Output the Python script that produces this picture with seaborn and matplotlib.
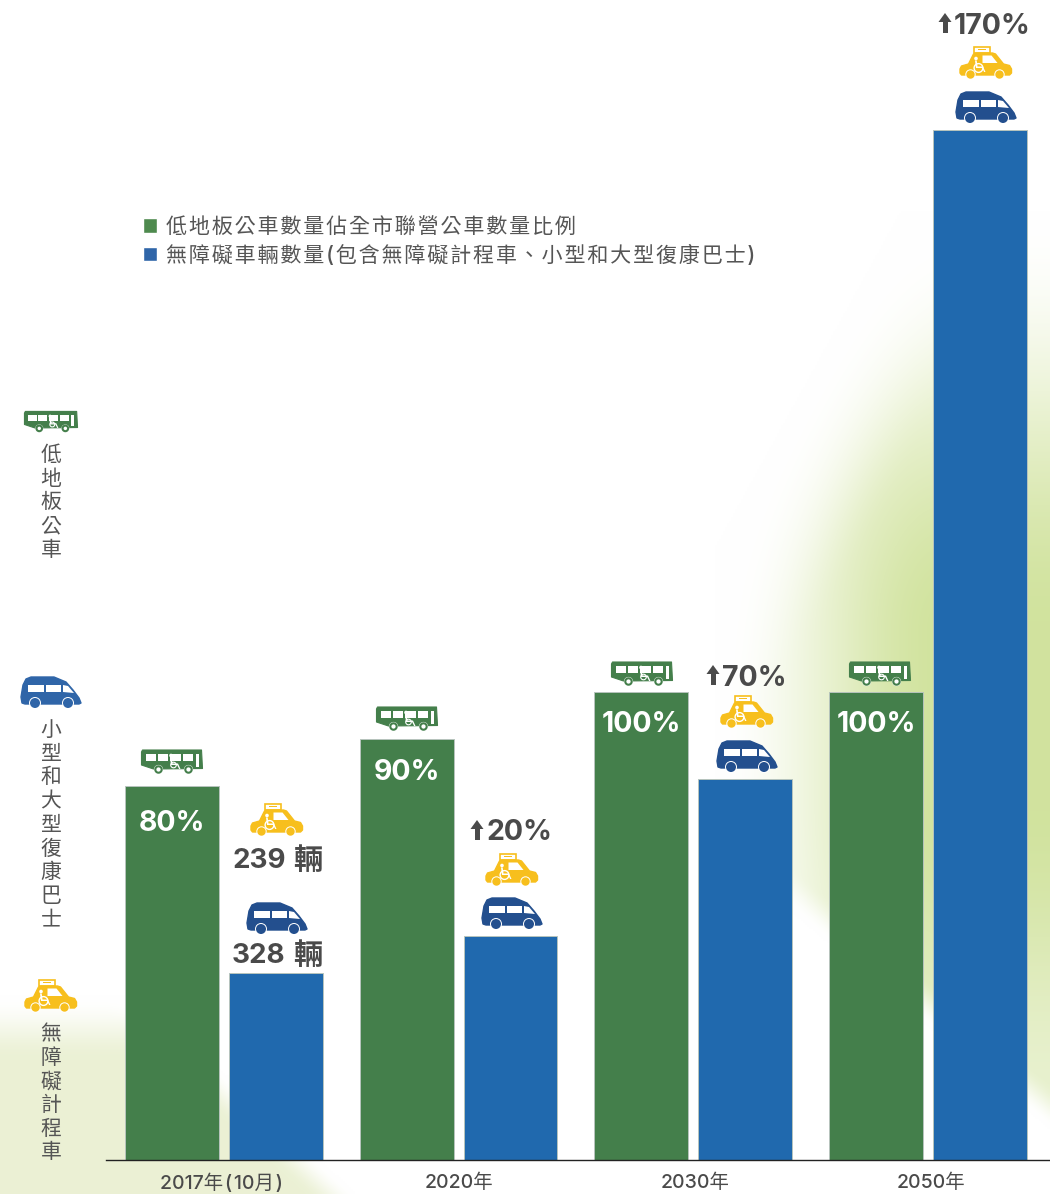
import numpy as np
import pandas as pd
import matplotlib
matplotlib.use("Agg")
import matplotlib.pyplot as plt
import seaborn as sns
from matplotlib.patches import Circle, Patch, Polygon, Rectangle
from matplotlib.transforms import Affine2D

sns.set_theme(style="white")
plt.rcParams["font.family"] = ["Inter", "Noto Sans CJK TC", "DejaVu Sans"]

# Data
years = ["2017年(10月)", "2020年", "2030年", "2050年"]
low_floor_pct = [80, 90, 100, 100]
accessible_vehicles = [567, 680, 1156, 3122]
growth_labels = [None, "20%", "70%", "170%"]
taxi_2017 = 239
rehabus_2017 = 328

low_floor_name = "低地板公車數量佔全市聯營公車數量比例"
accessible_name = "無障礙車輛數量(包含無障礙計程車、小型和大型復康巴士)"

GREEN = "#447f4b"
BLUE = "#2069ae"
TEXT = "#4a4a4a"
W, H = 1050, 1194
BASE = 1160

# the two series sit on their own scales, 567 vehicles is drawn as high as 40 %
VEHICLES_TO_PCT = (187 / 4.68) / 567

df = pd.concat([
    pd.DataFrame({"year": years, "height": low_floor_pct, "series": low_floor_name}),
    pd.DataFrame({"year": years, "height": np.array(accessible_vehicles) * VEHICLES_TO_PCT, "series": accessible_name}),
])
palette = {low_floor_name: GREEN, accessible_name: BLUE}

fig = plt.figure(figsize=(W / 100, H / 100), dpi=100)


def ramp(v):
    v = np.clip(v, 0, 1)
    return v * v * (3 - 2 * v)


# background glow
bg = fig.add_axes([0, 0, 1, 1], zorder=0)
X, Y = np.meshgrid(np.arange(0, W, 2), np.arange(0, H, 2))
glow = ramp((X - 715) / 230) * ramp((X * 0.875 + Y * 0.483 - 890) / 130)
glow = glow * ramp((Y - 210) / 420)
glow = glow * ramp((0.84 * (X - 793) - (Y - 903)) / 45 + 0.2)
glow = glow * (1 - 0.5 * ramp((Y - 800) / 300))
corner = 0.55 * ramp((Y - 995) / 65) * ramp(((200 - X) + (Y - 1075) * 1.1) / 50 + 0.5)
img = np.ones(X.shape + (3,))
for ch, (g, c) in enumerate(zip((0.82, 0.89, 0.62), (0.86, 0.9, 0.7))):
    img[..., ch] = 1 - (1 - g) * glow - (1 - c) * corner
bg.imshow(np.clip(img, 0, 1), extent=(0, W, H, 0), aspect="auto", interpolation="bilinear")
bg.axis("off")

# bars
ax = fig.add_axes([106 / W, (H - BASE) / H, 1 - 106 / W, BASE / H], zorder=1)
ax.patch.set_visible(False)
sns.barplot(data=df, x="year", y="height", hue="series", order=years, palette=palette, width=0.885, gap=0.096,
            saturation=1, legend=False, edgecolor="#b7c4bd", linewidth=0.7, ax=ax)
ax.set_ylim(0, BASE / 4.68)
ax.set_xlim(-0.502, 3.52)
ax.set_xlabel("")
ax.set_ylabel("")
ax.set_yticks([])
# labels sit a little off the group centres in the original
ax.set_xticks(np.arange(len(years)) + np.array([-2, 0, 2, 3]) / 235.2)
ax.set_xticklabels([y.replace("(", "\u200a(\u200a").replace(")", "\u200a)") for y in years])
ax.tick_params(axis="x", length=0, pad=10, labelsize=14, labelcolor=TEXT)
for lab in ax.get_xticklabels():
    lab.set_fontweight("medium")
sns.despine(ax=ax, left=True)
ax.spines["bottom"].set_color("#222222")
ax.spines["bottom"].set_linewidth(1)

for bar, pct, drop in zip(ax.containers[0], low_floor_pct, (38, 34, 32, 32)):
    ax.annotate(f"{pct}%", (bar.get_x() + bar.get_width() / 2, bar.get_height()), xytext=(0, -drop),
                textcoords="offset pixels", ha="center", va="center", color="white", fontsize=20.5, fontweight="bold")

# legend
handles = [Patch(facecolor="#4e8a4e", label="\u200a".join(low_floor_name)),
           Patch(facecolor="#2f65a8", label="\u200a".join(accessible_name))]
fig.legend(handles=handles, loc="upper left", bbox_to_anchor=(124 / W, 1 - 198 / H), frameon=False,
           labelcolor="#555555", handlelength=0.68, handleheight=0.68,
           handletextpad=0.4, labelspacing=0.36, borderpad=0.4, prop={"size": 15.15, "weight": "medium"})

# icons and text in pixel space
deco = fig.add_axes([0, 0, 1, 1], zorder=5)
deco.set_xlim(0, W)
deco.set_ylim(H, 0)
deco.axis("off")


def add(p, x, y, s):
    p.set_transform(Affine2D().scale(s).translate(x, y) + deco.transData)
    p.set_clip_on(False)
    deco.add_patch(p)


def wheelchair(x, y, s, cx, cy, r=4.4, lw=1.0):
    add(Circle((cx, cy), r, fc="none", ec="white", lw=lw), x, y, s)
    add(Circle((cx - 2.5, cy - 9.5), 1.8, fc="white", ec="none"), x, y, s)
    add(Polygon([(cx - 3.5, cy - 7.5), (cx - 1.8, cy - 7.5), (cx - 1, cy - 1.5), (cx + 4.5, cy - 1.5), (cx + 7, cy + 4),
                 (cx + 5.6, cy + 4), (cx + 3.6, cy), (cx - 2.5, cy)], fc="white", ec="none"), x, y, s)


def wheel(x, y, s, cx, cy, r, col):
    add(Circle((cx, cy), r + 1, fc="white", ec="none"), x, y, s)
    add(Circle((cx, cy), r, fc=col, ec="none"), x, y, s)


def bus(cx, cy, col=GREEN, s=1.0):
    x, y = cx - 30.5 * s, cy - 11 * s
    add(Polygon([(1, 0), (60, 0), (61, 18.5), (12, 19), (0, 15), (0, 2)], fc=col, ec=col, lw=0.8, joinstyle="round"),
        x, y, s)
    for wx, ww in [(4, 10), (16, 10), (28, 11), (41, 10)]:
        add(Rectangle((wx, 4), ww, 6.5, fc="white", ec="none"), x, y, s)
    add(Rectangle((54, 4), 3.5, 13, fc="white", ec="none"), x, y, s)
    for wx in (17, 47):
        add(Circle((wx, 19.5), 4.6, fc="white", ec="none"), x, y, s)
        add(Circle((wx, 19.5), 3.2, fc="white", ec=col, lw=1.5), x, y, s)
    wheelchair(x, y, s, 32, 15, r=2.8, lw=0.8)


def van(cx, cy, col="#234f8e"):
    s = 1.0
    x, y = cx - 30, cy - 15
    add(Polygon([(1, 26), (0, 20), (2, 8), (5, 2), (10, 0), (33, 0), (45, 5), (52, 13), (58, 21), (60, 26),
                 (58, 27), (4, 27)], fc=col, ec=col, lw=1.0, joinstyle="round"), x, y, s)
    add(Rectangle((7, 8), 16, 7, fc="white", ec="none"), x, y, s)
    add(Rectangle((25, 8), 15, 7, fc="white", ec="none"), x, y, s)
    add(Polygon([(42, 8), (47, 9), (53, 16), (42, 15)], fc="white", ec="none"), x, y, s)
    add(Rectangle((8, 18.5), 30, 0.8, fc="#cfd9e8", ec="none"), x, y, s)
    wheel(x, y, s, 14, 26, 5, col)
    wheel(x, y, s, 47, 26, 5, col)


def taxi(cx, cy, col="#f7bf1d"):
    s = 1.0
    x, y = cx - 26.5, cy - 17
    add(Rectangle((14.5, 0.5), 16, 6, fc="white", ec=col, lw=1.2), x, y, s)
    add(Rectangle((18.5, 2.5), 8, 1.8, fc=col, ec="none"), x, y, s)
    add(Polygon([(0.5, 27), (0.5, 23), (2, 20), (9, 18), (14, 8), (17, 7), (33, 7), (36, 8), (44, 18), (50, 19.5),
                 (52, 23), (52, 27), (50, 29), (2, 29)], fc=col, ec=col, lw=1.0, joinstyle="round"), x, y, s)
    add(Polygon([(23, 9.5), (32, 9.5), (38, 17), (23, 17)], fc="white", ec="none"), x, y, s)
    wheelchair(x, y, s, 19, 22)
    wheel(x, y, s, 11, 28.5, 4.2, col)
    wheel(x, y, s, 40, 28.5, 4.2, col)


def arrow(x, y):
    add(Polygon([(6, 0), (12.5, 9), (9, 9), (9, 20), (4, 20), (4, 9), (-0.5, 9)], fc=TEXT, ec="none"), x, y, 1)


# legend column on the left
bus(51, 421, s=0.87)
van(51, 692, col="#2f65a8")
taxi(51, 996)
col_labels = ["低地板公車", "小型和大型復康巴士", "無障礙計程車"]
col_tops = [455, 730, 1034]
for label, top in zip(col_labels, col_tops):
    for i, ch in enumerate(label):
        deco.text(51, top + i * 23.7, ch, ha="center", va="center", fontsize=15, fontweight="medium", color="#555555")

# icons over the bars
for cx, cy in zip((172, 407, 642, 880), (761, 718, 673, 673)):
    bus(cx, cy)
for cx, cy in zip((277, 512, 747, 986), (918, 913, 756, 107)):
    van(cx, cy)
for cx, cy in zip((277, 512, 747, 986), (820, 870, 712, 63)):
    taxi(cx, cy)

# 2017 counts
for val, yy in zip((taxi_2017, rehabus_2017), (861, 956)):
    deco.text(232, yy, str(val), ha="left", va="center", fontsize=20, fontweight="bold", color=TEXT)
    deco.text(322, yy, "輛", ha="right", va="center", fontsize=21, fontweight="bold", color=TEXT)

# growth labels
for label, ax_x, yy in zip(growth_labels[1:], (471, 707, 939), (820, 665, 13)):
    arrow(ax_x, yy)
    deco.text(ax_x + 15, yy + 13, label, ha="left", va="center", fontsize=20.5, fontweight="bold", color=TEXT)

fig.savefig("out.png", dpi=100)
